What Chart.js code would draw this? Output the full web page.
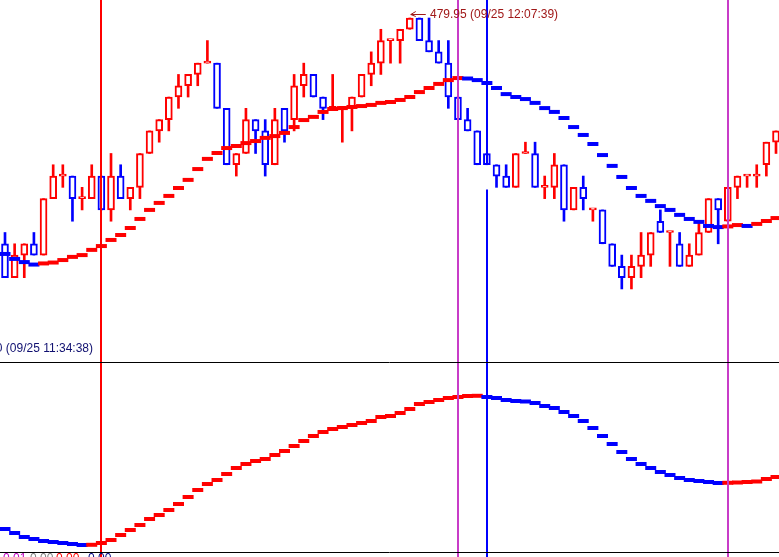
<!DOCTYPE html>
<html>
<head>
<meta charset="utf-8">
<title>candles</title>
<script src="https://cdn.jsdelivr.net/npm/chart.js@4.4.1/dist/chart.umd.min.js"></script>
<style>
  html, body { margin: 0; padding: 0; background: #fff; overflow: hidden; }
  #wrap { position: relative; width: 779px; height: 557px; overflow: hidden; }
  #chart { position: absolute; left: 0; top: 0; }
  .lbl { position: absolute; font-family: "Liberation Sans", Arial, sans-serif; font-size: 12px; line-height: 12px; white-space: nowrap; }
</style>
</head>
<body>
<div id="wrap">
  <canvas id="chart" width="779" height="557"></canvas>
  <div class="lbl" id="hiLabel" style="color:#a01818"></div>
  <div class="lbl" id="loLabel" style="color:#101070"></div>
</div>
<script>
const opens = [478.95, 478.80, 478.90, 478.95, 478.90, 479.15, 479.25, 479.25, 479.15, 479.15,
  479.25, 479.10, 479.25, 479.15, 479.20, 479.35, 479.45, 479.50, 479.60, 479.65,
  479.70, 479.75, 479.75, 479.55, 479.30, 479.35, 479.50, 479.45, 479.30, 479.55,
  479.50, 479.65, 479.70, 479.60, 479.55, 479.55, 479.55, 479.60, 479.70, 479.75,
  479.85, 479.85, 479.90, 479.95, 479.85, 479.80, 479.75, 479.60, 479.50, 479.45,
  479.35, 479.30, 479.25, 479.20, 479.35, 479.35, 479.20, 479.20, 479.30, 479.10,
  479.20, 479.10, 479.10, 478.95, 478.85, 478.80, 478.85, 478.90, 479.05, 479.00,
  478.95, 478.85, 478.90, 479.00, 479.15, 479.05, 479.20, 479.25, 479.25, 479.30,
  479.40];
const highs = [479.00, 478.95, 478.95, 479.00, 479.15, 479.30, 479.30, 479.25, 479.20, 479.30,
  479.25, 479.35, 479.30, 479.20, 479.35, 479.45, 479.50, 479.60, 479.70, 479.70,
  479.75, 479.85, 479.75, 479.55, 479.35, 479.55, 479.50, 479.50, 479.55, 479.55,
  479.70, 479.75, 479.70, 479.60, 479.70, 479.55, 479.60, 479.70, 479.80, 479.90,
  479.85, 479.90, 479.95, 479.95, 479.95, 479.85, 479.85, 479.60, 479.55, 479.45,
  479.35, 479.30, 479.30, 479.35, 479.40, 479.40, 479.25, 479.35, 479.30, 479.20,
  479.25, 479.10, 479.10, 478.95, 478.90, 478.90, 479.00, 479.00, 479.10, 479.00,
  479.00, 478.95, 479.05, 479.15, 479.15, 479.20, 479.25, 479.25, 479.30, 479.40,
  479.45];
const lows = [478.80, 478.80, 478.80, 478.90, 478.90, 479.15, 479.20, 479.05, 479.10, 479.15,
  479.10, 479.05, 479.15, 479.10, 479.15, 479.35, 479.40, 479.45, 479.55, 479.60,
  479.65, 479.75, 479.55, 479.30, 479.25, 479.35, 479.35, 479.25, 479.30, 479.40,
  479.45, 479.60, 479.60, 479.50, 479.55, 479.40, 479.45, 479.60, 479.65, 479.70,
  479.75, 479.75, 479.90, 479.85, 479.80, 479.75, 479.55, 479.50, 479.45, 479.30,
  479.30, 479.20, 479.20, 479.20, 479.35, 479.20, 479.15, 479.15, 479.05, 479.10,
  479.10, 479.05, 478.95, 478.85, 478.75, 478.75, 478.80, 478.85, 479.00, 478.85,
  478.85, 478.85, 478.90, 479.00, 478.95, 479.05, 479.15, 479.20, 479.20, 479.25,
  479.35];
const closes = [478.80, 478.90, 478.95, 478.90, 479.15, 479.25, 479.25, 479.15, 479.15, 479.25,
  479.10, 479.25, 479.15, 479.20, 479.35, 479.45, 479.50, 479.60, 479.65, 479.70,
  479.75, 479.75, 479.55, 479.30, 479.35, 479.50, 479.45, 479.30, 479.50, 479.45,
  479.65, 479.70, 479.60, 479.55, 479.55, 479.55, 479.60, 479.70, 479.75, 479.85,
  479.85, 479.90, 479.95, 479.85, 479.80, 479.75, 479.60, 479.50, 479.45, 479.30,
  479.30, 479.25, 479.20, 479.35, 479.35, 479.20, 479.20, 479.30, 479.10, 479.20,
  479.15, 479.10, 478.95, 478.85, 478.80, 478.85, 478.90, 479.00, 479.00, 479.00,
  478.85, 478.90, 479.00, 479.15, 479.10, 479.20, 479.25, 479.25, 479.25, 479.40,
  479.45];
// moving average over the candles
const maLine = [478.905, 478.883, 478.869, 478.858, 478.863, 478.867, 478.878, 478.892, 478.900, 478.923,
  478.940, 478.967, 478.989, 479.020, 479.060, 479.100, 479.131, 479.162, 479.197, 479.233,
  479.281, 479.326, 479.352, 479.374, 479.383, 479.396, 479.405, 479.419, 479.427, 479.441,
  479.467, 479.498, 479.512, 479.534, 479.547, 479.551, 479.556, 479.560, 479.565, 479.574,
  479.578, 479.587, 479.600, 479.622, 479.640, 479.658, 479.675, 479.684, 479.682, 479.675,
  479.662, 479.640, 479.613, 479.600, 479.591, 479.574, 479.551, 479.534, 479.507, 479.467,
  479.432, 479.392, 479.343, 479.295, 479.246, 479.197, 479.162, 479.140, 479.117, 479.100,
  479.078, 479.060, 479.047, 479.029, 479.024, 479.027, 479.033, 479.029, 479.038, 479.051,
  479.064];
// lower panel indicator
const oscLine = [2.3, 1.9, 1.5, 1.3, 1.1, 1.0, 0.9, 0.8, 0.7, 0.72,
  0.9, 1.2, 1.7, 2.2, 2.7, 3.3, 3.7, 4.2, 4.8, 5.5,
  6.2, 6.8, 7.2, 7.8, 8.4, 8.8, 9.1, 9.3, 9.7, 10.1,
  10.6, 11.1, 11.6, 12.0, 12.3, 12.5, 12.7, 12.9, 13.1, 13.5,
  13.6, 13.9, 14.3, 14.8, 15.0, 15.2, 15.4, 15.5, 15.6, 15.62,
  15.5, 15.4, 15.2, 15.1, 15.05, 14.9, 14.6, 14.4, 14.0, 13.6,
  13.1, 12.4, 11.6, 10.8, 10.0, 9.3, 8.8, 8.4, 8.0, 7.7,
  7.4, 7.2, 7.1, 7.0, 6.9, 6.92, 6.95, 7.0, 7.05, 7.3,
  7.5];

const markerIdx = [10, 47, 50, 75];
const markerColors = ['#ff0000', '#c83cc8', '#0000ff', '#c83cc8'];
const markerGaps = { 50: [479.19, 479.30] };
const panelEdges = [0, 19];
const hiTime = '09/25 12:07:39';
const loValue = 478.50;
const loTime = '09/25 11:34:38';
const footVals = ['0.01', '0.00', '0.00', '0.00'];
const footColors = ['#c000c0', '#808080', '#ff0000', '#000080'];
const footLeft = [3, 30, 56, 88];

const RED = '#ff0000';
const BLUE = '#0000ff';

const trendColors = (vals) => {
    let c = BLUE;
    return vals.map((v, i) => {
        if (i > 0 && v > vals[i - 1]) c = RED;
        else if (i > 0 && v < vals[i - 1]) c = BLUE;
        return c;
    });
};

const candleColors = opens.map((o, i) => closes[i] >= o ? RED : BLUE);
const bodies = opens.map((o, i) => ({ x: i, y: [Math.min(o, closes[i]), Math.max(o, closes[i])] }));
const wicks = opens.map((o, i) => ({ x: i, y: [lows[i], highs[i]] }));
const maPts = maLine.map((v, i) => ({ x: i, y: v }));
const oscPts = oscLine.map((v, i) => ({ x: i, y: v }));

const overlay = {
    id: 'overlay',
    afterDatasetsDraw(chart) {
        const { ctx, chartArea } = chart;
        const { x, y, y2 } = chart.scales;
        ctx.save();
        ctx.lineWidth = 2;
        markerIdx.forEach((m, k) => {
            const px = Math.round(x.getPixelForValue(m));
            ctx.strokeStyle = markerColors[k];
            ctx.beginPath();
            const gap = markerGaps[m];
            if (gap) {
                ctx.moveTo(px, chartArea.top);
                ctx.lineTo(px, y.getPixelForValue(gap[1]));
                ctx.moveTo(px, y.getPixelForValue(gap[0]));
            } else {
                ctx.moveTo(px, chartArea.top);
            }
            ctx.lineTo(px, chartArea.bottom);
            ctx.stroke();
        });
        ctx.strokeStyle = '#000';
        ctx.lineWidth = 1;
        panelEdges.forEach(v => {
            const py = Math.round(y2.getPixelForValue(v)) + 0.5;
            ctx.beginPath();
            ctx.moveTo(chartArea.left, py);
            ctx.lineTo(chartArea.right, py);
            ctx.stroke();
        });
        // arrow to the session high
        const hi = Math.max(...highs);
        const hx = x.getPixelForValue(highs.indexOf(hi));
        const hy = Math.round(y.getPixelForValue(hi)) - 3.5;
        ctx.strokeStyle = '#a01818';
        ctx.beginPath();
        ctx.moveTo(hx + 1, hy);
        ctx.lineTo(hx + 16, hy);
        ctx.moveTo(hx + 1, hy);
        ctx.lineTo(hx + 6, hy - 3);
        ctx.moveTo(hx + 1, hy);
        ctx.lineTo(hx + 6, hy + 2);
        ctx.stroke();
        ctx.restore();
    }
};

const ctx = document.getElementById('chart').getContext('2d');
const chart = new Chart(ctx, {
    type: 'bar',
    data: {
        datasets: [{
            type: 'line',
            data: maPts,
            yAxisID: 'y',
            showLine: false,
            pointStyle: 'line',
            pointRadius: 5.5,
            pointBorderWidth: 4,
            pointBorderColor: trendColors(maLine),
            pointBackgroundColor: trendColors(maLine),
            order: 0
        }, {
            type: 'line',
            data: oscPts,
            yAxisID: 'y2',
            showLine: false,
            pointStyle: 'line',
            pointRadius: 5.5,
            pointBorderWidth: 4,
            pointBorderColor: trendColors(oscLine),
            pointBackgroundColor: trendColors(oscLine),
            order: 0
        }, {
            data: bodies,
            yAxisID: 'y',
            grouped: false,
            barThickness: 7,
            minBarLength: 2,
            backgroundColor: '#ffffff',
            borderColor: candleColors,
            borderWidth: 2,
            borderSkipped: false,
            order: 1
        }, {
            data: wicks,
            yAxisID: 'y',
            grouped: false,
            barThickness: 2,
            backgroundColor: candleColors,
            borderWidth: 0,
            order: 2
        }]
    },
    options: {
        responsive: false,
        devicePixelRatio: 1,
        animation: false,
        events: [],
        layout: { padding: 0, autoPadding: false },
        plugins: {
            legend: { display: false },
            tooltip: { enabled: false }
        },
        scales: {
            x: {
                type: 'linear',
                display: false,
                offset: false,
                min: -0.5188,
                max: 80.311,
                grid: { display: false, offset: false }
            },
            y: {
                type: 'linear',
                display: false,
                min: 477.5629,
                max: 480.0297
            },
            y2: {
                type: 'linear',
                display: false,
                position: 'right',
                min: -0.5,
                max: 55.2
            }
        }
    },
    plugins: [overlay]
});

// text labels
const hiVal = Math.max(...highs);
const hiIdx = highs.indexOf(hiVal);
const hiLabel = document.getElementById('hiLabel');
hiLabel.textContent = hiVal.toFixed(2) + ' (' + hiTime + ')';
hiLabel.style.left = Math.round(chart.scales.x.getPixelForValue(hiIdx) + 20) + 'px';
hiLabel.style.top = Math.round(chart.scales.y.getPixelForValue(hiVal) - 10) + 'px';

const loLabel = document.getElementById('loLabel');
loLabel.textContent = loValue.toFixed(2) + ' (' + loTime + ')';
loLabel.style.right = (779 - 93) + 'px';
loLabel.style.top = Math.round(chart.scales.y.getPixelForValue(loValue) - 3) + 'px';

const wrap = document.getElementById('wrap');
footVals.forEach((t, i) => {
    const d = document.createElement('div');
    d.className = 'lbl';
    d.textContent = t;
    d.style.left = footLeft[i] + 'px';
    d.style.top = '552px';
    d.style.color = footColors[i];
    wrap.appendChild(d);
});
</script>
</body>
</html>
